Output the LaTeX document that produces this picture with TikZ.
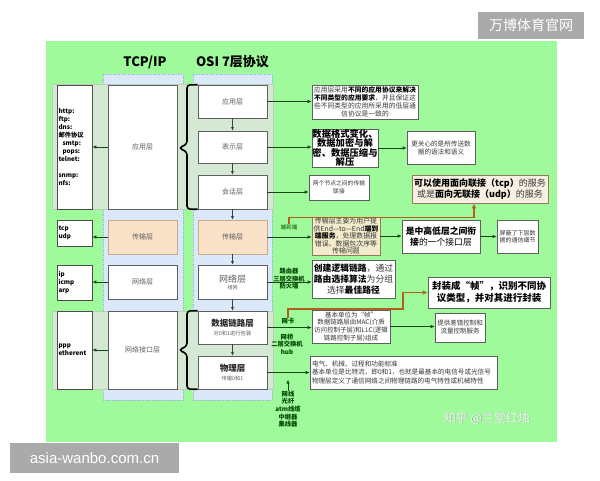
\documentclass[tikz,border=0pt]{standalone}
\usepackage{fontspec}
\setmainfont{Noto Sans CJK SC}
\newfontfamily\wmfont{Liberation Sans}
\usetikzlibrary{arrows.meta}
\newcommand\fz[2]{\fontsize{#1pt}{#2pt}\selectfont}
\definecolor{bgreen}{RGB}{158,250,154}
\definecolor{grayreg}{RGB}{213,232,212}
\definecolor{grayregl}{RGB}{185,205,185}
\definecolor{bluecol}{RGB}{218,232,250}
\definecolor{bluedash}{RGB}{160,185,215}
\definecolor{orangebox}{RGB}{250,226,200}
\definecolor{orangeline}{RGB}{200,170,140}
\definecolor{boxline}{RGB}{95,95,95}
\definecolor{tanfill}{RGB}{247,240,226}
\definecolor{tanline}{RGB}{150,120,95}
\definecolor{beige}{RGB}{242,236,204}
\definecolor{connc}{RGB}{25,70,25}
\definecolor{brownarr}{RGB}{180,95,25}
\definecolor{devgreen}{RGB}{0,70,0}
\definecolor{wmgray}{RGB}{170,170,170}
\definecolor{txtgray}{RGB}{95,95,95}
\definecolor{txtdark}{RGB}{55,55,55}
\begin{document}
\begin{tikzpicture}[x=1pt,y=-1pt,
  conn/.style={draw=connc, line width=0.7pt, -{Latex[length=4pt,width=3.5pt]}},
  downarr/.style={draw=black!75, line width=0.6pt, -{Latex[length=3.5pt,width=3pt]}},
  barr/.style={draw=brownarr, line width=1.1pt, -{Latex[length=5pt,width=4.5pt]}},
  pbox/.style={draw=black!70, fill=white, line width=0.6pt, inner sep=1.5pt, align=left, font=\bfseries\fz{6.3}{8}},
  tbox/.style={draw=boxline, fill=white, line width=0.6pt, inner sep=0pt, text=txtgray, font=\fz{7}{8}},
  obox/.style={draw=boxline, fill=white, line width=0.6pt, inner sep=0pt, align=center, text=txtgray, font=\fz{7}{8}},
  rbox/.style={draw=boxline, fill=white, line width=0.6pt, inner sep=0pt, align=center, text=txtdark},
  devlbl/.style={text=devgreen, font=\bfseries\fz{6.3}{7.6}, align=center, inner sep=0pt},
  colbg/.style={draw=bluedash, fill=bluecol, line width=0.8pt, dash pattern=on 1.5pt off 1pt}
]
\useasboundingbox (0,0) rectangle (600,480);
\fill[white] (0,0) rectangle (600,480);
% green panel
\fill[bgreen] (46,41) rectangle (557,442);
% watermarks
\node[fill=wmgray, text=white, minimum width=106pt, minimum height=27pt, inner sep=0pt, font=\fz{14}{16}] (wm1) at (531,25) {万博体育官网};
\node[fill=wmgray, text=white, minimum width=169pt, minimum height=30pt, inner sep=0pt, font=\wmfont\fz{15}{17}] (wm2) at (94.5,458) {asia-wanbo.com.cn};
% titles
\node[font=\bfseries\fz{13}{15}] (t1) at (145,62) {TCP/IP};
\node[font=\bfseries\fz{13}{15}] (t2) at (232.5,62) {OSI 7层协议};
% blue columns
\draw[colbg] (103,74) rectangle (183,400);
\draw[colbg] (193,74) rectangle (272,400);
% gray regions
\draw[fill=grayreg, draw=grayregl, line width=0.4pt] (52,84) rectangle (273,209);
\draw[fill=grayreg, draw=grayregl, line width=0.4pt] (52,311) rectangle (273,389);
% protocol boxes
\node[pbox, minimum width=35pt, minimum height=124pt, text width=32pt] (pa) at (74.5,147) {http:\\ftp:\\dns:\\邮件协议\\\hspace*{4pt}smtp:\\\hspace*{4pt}pops:\\telnet:\\[8pt]snmp:\\nfs:};
\node[pbox, minimum width=35pt, minimum height=26pt, text width=32pt] (pt) at (74.5,233) {tcp\\udp};
\node[pbox, minimum width=35pt, minimum height=35pt, text width=32pt] (pn) at (74.5,282.5) {ip\\icmp\\arp};
\node[pbox, minimum width=35pt, minimum height=78pt, text width=32pt] (pl) at (74.5,350) {ppp\\etherent};
% TCP/IP boxes
\node[tbox, minimum width=69pt, minimum height=124pt] (ta) at (142.5,147) {应用层};
\node[tbox, minimum width=69pt, minimum height=34pt, fill=orangebox, draw=orangeline] (tt) at (142.5,237) {传输层};
\node[tbox, minimum width=69pt, minimum height=34pt] (tn) at (142.5,282) {网络层};
\node[tbox, minimum width=69pt, minimum height=78pt] (tl) at (142.5,350) {网络接口层};
% OSI boxes
\node[obox, minimum width=69pt, minimum height=33pt] (o1) at (232.5,101.5) {应用层};
\node[obox, minimum width=69pt, minimum height=32pt] (o2) at (232.5,147) {表示层};
\node[obox, minimum width=69pt, minimum height=34pt] (o3) at (232.5,192) {会话层};
\node[obox, minimum width=69pt, minimum height=34pt, fill=orangebox, draw=orangeline] (o4) at (232.5,237) {传输层};
\node[obox, minimum width=69pt, minimum height=34pt] (o5) at (232.5,282) {{\fz{9}{11}网络层}\\[-1pt]{\fz{5}{6}组网}};
\node[obox, minimum width=69pt, minimum height=33pt] (o6) at (232.5,327.5) {{\bfseries\fz{8.5}{10}\color{black!85}数据链路层}\\[1pt]{\fz{5.3}{6}对0和1进行包装}};
\node[obox, minimum width=69pt, minimum height=33pt] (o7) at (232.5,372.5) {{\bfseries\fz{8.5}{10}\color{black!85}物理层}\\[1pt]{\fz{5.3}{6}传输0和1}};
% braces
\draw[line width=1.6pt, rounded corners=3pt] (o1.north west) -- (187,85) -- (187,144) -- (179,148) -- (187,152) -- (187,209) -- (o3.south west);
\draw[line width=1.6pt, rounded corners=3pt] (o6.north west) -- (187,311) -- (187,346) -- (179,350) -- (187,354) -- (187,389) -- (o7.south west);
% left arrows
\draw[conn] (ta.west) -- (ta.west -| pa.east);
\draw[conn] (tt.west) -- (tt.west -| pt.east);
\draw[conn] (tn.west) -- (tn.west -| pn.east);
\draw[conn] (tl.west) -- (tl.west -| pl.east);
% down arrows
\draw[downarr] (o1.south) -- (o2.north);
\draw[downarr] (o2.south) -- (o3.north);
\draw[downarr] (o3.south) -- (o4.north);
\draw[downarr] (o4.south) -- (o5.north);
\draw[downarr] (o5.south) -- (o6.north);
\draw[downarr] (o6.south) -- (o7.north);
% right-side boxes
\node[rbox, minimum width=106pt, minimum height=34pt, font=\fz{6.8}{8}] (b1) at (365,102) {应用层采用\textbf{\color{black}不同的应用协议来解决}\\\textbf{\color{black}不同类型的应用要求}，并且保证这\\些不同类型的应用所采用的低层通\\信协议是一致的};
\node[rbox, minimum width=66pt, minimum height=36pt, text=black, font=\bfseries\fz{9.3}{9.6}] (b2) at (345,148) {数据格式变化、\\数据加密与解\\密、数据压缩与\\解压};
\node[rbox, minimum width=68pt, minimum height=33pt, font=\fz{6.6}{8}] (b3) at (441,147.5) {更关心的是所传送数\\据的语法和语义};
\node[rbox, minimum width=60pt, minimum height=25pt, font=\fz{5.8}{7.5}] (b4) at (339,187.5) {两个节点之间的传输\\联接};
\node[rbox, minimum width=136pt, minimum height=28pt, fill=tanfill, draw=tanline, font=\fz{9}{11}] (b5) at (480,189) {\textbf{\color{black}可以使用面向联接（tcp）}的服务\\或是\textbf{\color{black}面向无联接（udp）}的服务};
\node[rbox, minimum width=68pt, minimum height=38pt, fill=beige, draw=tanline, font=\fz{6.9}{7.6}] (b6) at (346,236) {传输层主要为用户提\\供End—to—End\textbf{\color{black}端到}\\\textbf{\color{black}端服务}，处理数据报\\错误、数据包次序等\\传输问题};
\node[rbox, minimum width=78pt, minimum height=33pt, text=black, font=\fz{8.8}{11}] (b7) at (441,236.5) {\textbf{是中高低层之间衔}\\\textbf{接}的一个接口层};
\node[rbox, minimum width=41pt, minimum height=33pt, font=\fz{6}{7.5}] (b8) at (517.5,236.5) {屏蔽了下层数\\据的通信细节};
\node[rbox, minimum width=83pt, minimum height=38pt, font=\fz{8.8}{11}] (b9) at (353.5,279) {\textbf{\color{black}创建逻辑链路}，通过\\\textbf{\color{black}路由选择算法}为分组\\选择\textbf{\color{black}最佳路径}};
\node[rbox, minimum width=122pt, minimum height=31pt, text=black, font=\bfseries\fz{9.5}{12}] (b10) at (489,292.5) {封装成“帧”，识别不同协\\议类型，并对其进行封装};
\node[rbox, minimum width=78pt, minimum height=33pt, font=\fz{6.5}{7.6}] (b11) at (351,326.5) {基本单位为“帧”\\数据链路层由MAC(介质\\访问控制子层)和LLC(逻辑\\链路控制子层)组成};
\node[rbox, minimum width=50pt, minimum height=29pt, font=\fz{6.5}{8}] (b12) at (460,327.5) {提供差错控制和\\流量控制服务};
\node[rbox, minimum width=187pt, minimum height=33pt, align=left, text width=183pt, font=\fz{6.6}{8.4}] (b13) at (403.5,372.5) {电气、机械、过程和功能标准\\基本单位是比特流，即0和1，也就是最基本的电信号或光信号\\物理层定义了通信网络之间物理链路的电气特性或机械特性};
% connectors to the right
\draw[conn] (o1.east) -- (o1.east -| b1.west);
\draw[conn] (o2.east) -- (o2.east -| b2.west);
\draw[conn] (b2.east) -- (b2.east -| b3.west);
\draw[conn] (o3.east) -- (o3.east -| b4.west);
\draw[conn] (o4.east) -- (o4.east -| b6.west);
\draw[conn] (b6.east) -- (b6.east -| b7.west);
\draw[conn] (b7.east) -- (b7.east -| b8.west);
\draw[conn] (o5.east) -- (o5.east -| b9.west);
\draw[conn] (o6.east) -- (o6.east -| b11.west);
\draw[conn] (b11.east) -- (b11.east -| b12.west);
\draw[conn] (o7.east) -- (o7.east -| b13.west);
% device labels
\node[devlbl] (ddd) at (289,227) {\mdseries\fz{5.6}{7}端到端};
\node[devlbl] (dev1) at (289,279) {路由器\\三层交换机\\防火墙};
\node[devlbl] (wk) at (288,321) {网卡};
\node[devlbl] (dev2) at (287,344) {网桥\\二层交换机\\hub};
\node[devlbl] (dev3) at (288,409) {网线\\光纤\\atm线缆\\中继器\\集线器};
\draw[conn] (dev3.north) -- ++(0,-11);
% brown arrows
\draw[barr] (ddd.north) -- ++(0,-7) -| ([xshift=-6pt]b5.south);
\draw[barr] (wk.north) |- (403,309) |- (b10.west);
% zhihu watermark
\node[text=black!35, font=\fz{12}{14}] at (487.6,418.6) {知乎 @兰堂红烛};
\node[text=white!92!green, font=\fz{12}{14}] (zh) at (487,418) {知乎 @兰堂红烛};
\end{tikzpicture}
\end{document}
